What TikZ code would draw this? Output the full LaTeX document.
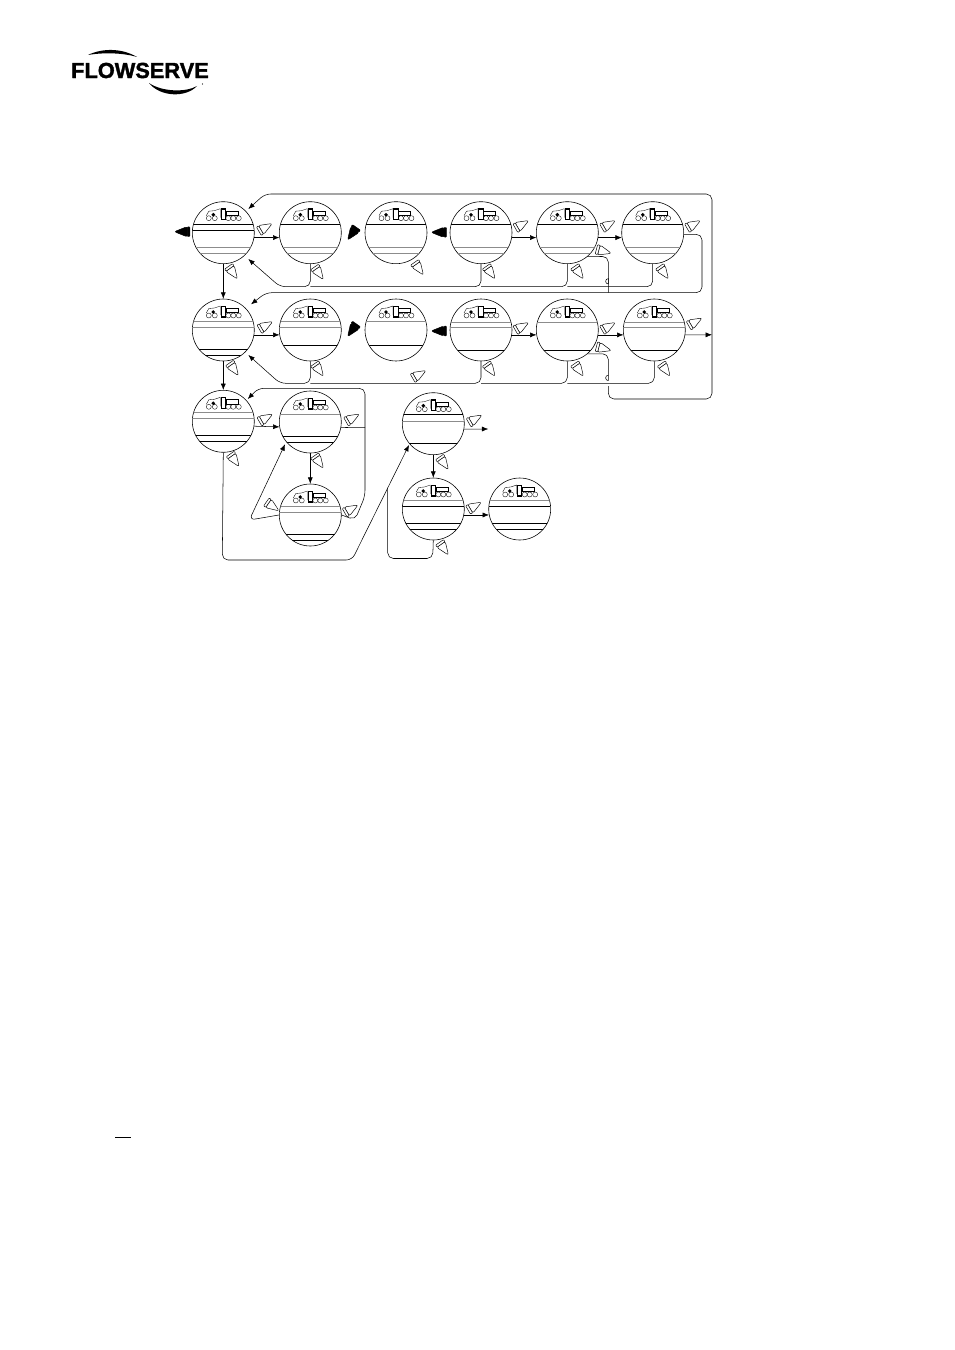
\documentclass[tikz,border=0pt]{standalone}
\usepackage{fontspec}
\setsansfont{Liberation Sans}
\newfontfamily\logofont{Liberation Sans}[BoldFeatures={FakeBold=1.6}]
\usetikzlibrary{positioning, calc, arrows.meta}

\definecolor{linegray}{HTML}{8C8C8C}

\tikzset{
  dial/.style={circle, draw, line width=0.5pt, inner sep=0pt, minimum size=1.86cm, fill=white},
  wire/.style={draw, line width=0.45pt, rounded corners=1.7mm},
  flow/.style={wire, -{Latex[length=1.9mm, width=1.5mm]}},
  btn/.pic={
    \draw[line width=0.4pt, fill=#1, rounded corners=1.8pt]
      (-4,-5.2) -- (-4,5.2) -- (9,0) -- cycle;
    \draw[line width=0.4pt, fill=#1, rounded corners=0.6pt] (-6.5,-4.8) rectangle (-4,4.8);
  }
}

% one display: name, x, y, grey lines, black lines
\newcommand{\dial}[5]{
  \node[dial] (#1) at (#2, #3) {};
  \begin{scope}
    \clip (#2, #3) circle (31);
    \foreach \off in {#4} \draw[linegray, line width=0.7pt] (#2-31, #3+\off) -- (#2+31, #3+\off);
    \foreach \off in {#5} \draw[black, line width=0.65pt] (#2-31, #3+\off) -- (#2+31, #3+\off);
  \end{scope}
  % keypad symbols
  \begin{scope}[shift={(#2, #3)}, line width=0.3pt]
    \foreach \kx in {-14.5,-8.5,5,10,15.5} \draw (\kx, -14.5) circle (2.5);
    \draw (-17,-17) -- (-14.5,-21.5) -- (-9,-22) -- (-3,-24) -- (-3,-15);
    \draw (2.5,-22) rectangle (14.5,-17.5);
    \fill (-10,-18) circle (1.9);
    \draw[line width=1pt, fill=white] (-2.2,-23.7) rectangle (2.2,-13);
  \end{scope}
}

\begin{document}
\begin{tikzpicture}[x=0.03cm, y=-0.03cm]
\useasboundingbox (0,0) rectangle (954,1350);

% logo
\node[font=\logofont\bfseries\fontsize{18.6pt}{20pt}\selectfont, inner sep=0pt] (logo) at (140, 70.5) {FLOWSERVE};
\fill (88,55) .. controls (102,48) and (122,48) .. (137,57) .. controls (122,52.5) and (102,52.5) .. cycle;
\fill (149,83) .. controls (160,97) and (186,98) .. (197,86) .. controls (186,92.5) and (162,92) .. cycle;
\fill (202.5,84) circle (0.7);

% displays, row 1
\dial{dA}{223.3}{232.7}{14.3,20.3}{-8.3,-2.3}
\dial{dB}{310.3}{232.7}{14.3,20.3}{-8.3}
\dial{dC}{396}{232.7}{14.3,20.3}{-8.3}
\dial{dD}{481}{232.7}{14.3,20.3}{-8.3}
\dial{dE}{567.3}{232.7}{14.3,20.3}{-8.3}
\dial{dF}{652.7}{232.7}{14.3,20.3}{-8.3}

% displays, row 2
\dial{dG}{223.3}{330}{-8.5,-2.5}{19.5,25.3}
\dial{dH}{310.3}{330}{-8.5,-2.5}{15}
\dial{dI}{396}{330}{-8.5}{15}
\dial{dJ}{481}{330}{-8,-2.5}{20}
\dial{dK}{567.3}{330}{-8}{20}
\dial{dL}{654.3}{330}{-8,-2.5}{20}

% displays, row 3
\dial{dM}{223.3}{421.3}{-9,-3}{14,20}
\dial{dN}{310.3}{422}{-8}{14,20}
\dial{dO}{310.3}{515}{-9,-3}{19,25}
\dial{dP}{433.3}{423.7}{-2.5}{-9,20}
\dial{dQ}{433.3}{509}{-9}{-3,14,20}
\dial{dR}{519.7}{509}{-9}{-3,14,20}

% row 1 connectors
\draw[flow] (dA.-9) -- (dB.189);
\draw[flow] (dD.-9) -- (dE.189);
\draw[flow] (dE.-9) -- (dF.189);
\draw[flow] (dA.south) -- (dG.north);
\draw[flow] (dB.south) -- (310.3,286.7) -- (280,286.7) -- (248.3,259);
\draw[wire] (dD.south) -- (481,286.7) -- (310.3,286.7);
\draw[wire] (dE.south) -- (567.3,286.7) -- (481,286.7);
\draw[wire] (dF.south) -- (652.7,286.7) -- (567.3,286.7);
\draw[flow] (dF.-3) -- (702,234.3) -- (702,292.7) -- (266,292.7) -- (251,304.3);

% row 2 connectors
\draw[flow] (dG.-9) -- (dH.189);
\draw[flow] (dJ.-9) -- (dK.189);
\draw[flow] (dK.-9) -- (dL.189);
\draw[flow] (dG.south) -- (dM.north);
\draw[flow] (dH.south) -- (310.3,383.3) -- (280,383.3) -- (248.3,355);
\draw[wire] (dJ.south) -- (481,383.3) -- (310.3,383.3);
\draw[wire] (dK.south) -- (567.3,383.3) -- (481,383.3);
\draw[wire] (dL.south) -- (654.3,383.3) -- (567.3,383.3);
\draw[flow] (dL.-9) -- (712,334.8);

% long returns on the right, hopping over the row lines
\draw[wire] (dE.-50) -- (608.3,256.4) -- (608.3,284);
\draw[line width=0.45pt] (608.3,284) arc (90:270:2.7) -- (608.3,292.7);
\draw[wire] (dK.-50) -- (608.3,353.7) -- (608.3,380.6);
\draw[line width=0.45pt] (608.3,380.6) arc (90:270:2.7);
\draw[flow] (608.3,386) -- (608.3,399) -- (712,399) -- (712,194) -- (265,194) -- (248.3,209);

% row 3 connectors
\draw[flow] (dM.-9) -- (dN.189);
\draw[flow] (dN.south) -- (dO.north);
\draw[flow] (dO.west) -- (249.3,520) -- (285,444.3);
\draw[flow] (dO.east) -- (355,520) -- (365,496) -- (365,388.3) -- (258.3,388.3) -- (247.7,399);
\draw[wire] (dN.-10) -- (365,427.7);
\draw[flow] (dM.south) -- (222.3,560) -- (352,560) -- (409,445);
\draw[flow] (dP.-10) -- (488.3,429);
\draw[flow] (dP.south) -- (dQ.north);
\draw[flow] (dQ.-11) -- (dR.191);
\draw[wire] (dQ.south) -- (432.7,558.5) -- (387.7,558.5) -- (387.7,487.7);

% white buttons
\foreach \bx/\by/\brot in {
  264.5/228/30, 232.3/271.7/-55, 318.3/272.3/-55, 418.3/267.7/-55,
  521/225/30, 490/271.7/-55, 607.7/225/30, 602.7/251/-15, 578.3/271.7/-55,
  692.7/225/30, 663.3/271.7/-55,
  265/326/30, 233.3/368.3/-55, 318.3/369/-55, 418.3/375/30,
  521/327/30, 490/369/-55, 607.7/327/30, 602.7/348.3/-15, 578.3/369/-55,
  694.3/322.5/30, 665/369/-55,
  265/418.5/30, 234/459.3/-55, 351.7/418.5/30, 318.3/461/-55,
  271.7/505.7/-35, 350.3/509.5/30,
  474.3/419.5/30, 443.3/462.3/-55, 473.7/506.7/30, 443.3/547.7/-55}
  \pic[rotate=\brot] at (\bx, \by) {btn=white};

% black buttons
\foreach \bx/\by/\brot in {
  183.3/231.7/180, 352.7/232.7/-125, 440/232.3/180,
  352.7/329.3/-125, 440/331/180}
  \pic[rotate=\brot] at (\bx, \by) {btn=black};

\draw[line width=0.8pt] (115,1137.5) -- (131,1137.5);

\end{tikzpicture}
\end{document}
